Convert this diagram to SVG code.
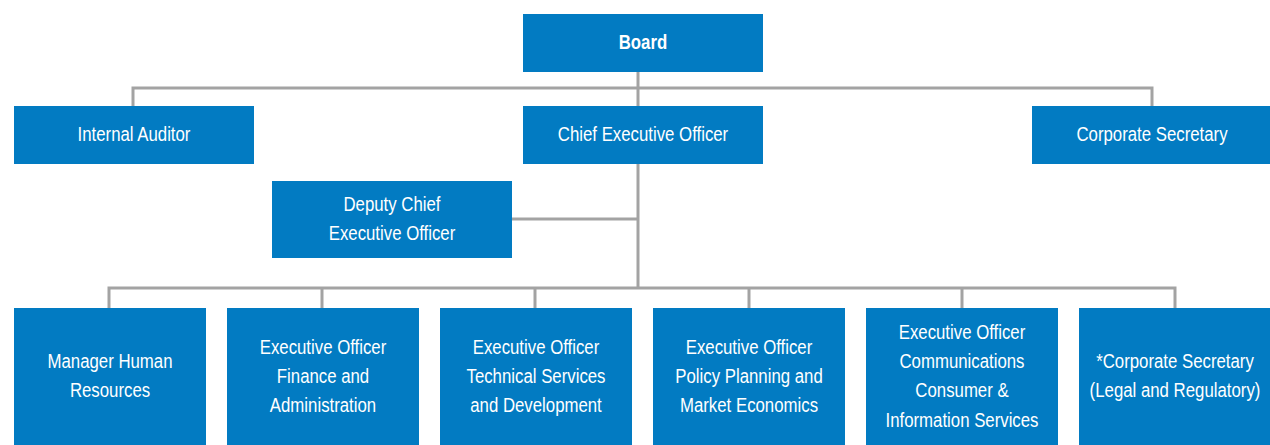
<svg xmlns="http://www.w3.org/2000/svg" width="1270" height="445" viewBox="0 0 1270 445">
<style>
.box{fill:#027BC2}
.t{font-family:"Liberation Sans",Arial,sans-serif;font-size:21px;fill:#fff;text-anchor:middle}
.b{font-weight:bold}
.c{fill:none;stroke:#A3A3A3;stroke-width:3}
</style>
<rect width="1270" height="445" fill="#fff"/>
<g id="connectors">
<path class="c" d="M638 72V288"/>
<path class="c" d="M133 106V88H1152V106"/>
<path class="c" d="M512 219H638"/>
<path class="c" d="M109 308V288H1175V308"/>
<path class="c" d="M322 288V308M535 288V308M749 288V308M962 288V308"/>
</g>
<g id="board"><rect class="box" x="523" y="14" width="240" height="58"/><g transform="translate(643 0) scale(0.8 1)"><text class="t b" x="0" y="49">Board</text></g></g>
<g id="internal-auditor"><rect class="box" x="14" y="106" width="240" height="58"/><g transform="translate(134 0) scale(0.8 1)"><text class="t" x="0" y="141">Internal Auditor</text></g></g>
<g id="ceo"><rect class="box" x="523" y="106" width="240" height="58"/><g transform="translate(643 0) scale(0.8 1)"><text class="t" x="0" y="141">Chief Executive Officer</text></g></g>
<g id="corporate-secretary"><rect class="box" x="1032" y="106" width="240" height="58"/><g transform="translate(1152 0) scale(0.8 1)"><text class="t" x="0" y="141">Corporate Secretary</text></g></g>
<g id="deputy-ceo"><rect class="box" x="272" y="181" width="240" height="77"/><g transform="translate(392 0) scale(0.8 1)"><text class="t" x="0" y="211">Deputy Chief</text><text class="t" x="0" y="240">Executive Officer</text></g></g>
<g id="hr"><rect class="box" x="14" y="308" width="192" height="140"/><g transform="translate(110 0) scale(0.8 1)"><text class="t" x="0" y="368">Manager Human</text><text class="t" x="0" y="397">Resources</text></g></g>
<g id="finance"><rect class="box" x="227" y="308" width="192" height="140"/><g transform="translate(323 0) scale(0.8 1)"><text class="t" x="0" y="354">Executive Officer</text><text class="t" x="0" y="383">Finance and</text><text class="t" x="0" y="412">Administration</text></g></g>
<g id="technical"><rect class="box" x="440" y="308" width="192" height="140"/><g transform="translate(536 0) scale(0.8 1)"><text class="t" x="0" y="354">Executive Officer</text><text class="t" x="0" y="383">Technical Services</text><text class="t" x="0" y="412">and Development</text></g></g>
<g id="policy"><rect class="box" x="653" y="308" width="192" height="140"/><g transform="translate(749 0) scale(0.8 1)"><text class="t" x="0" y="354">Executive Officer</text><text class="t" x="0" y="383">Policy Planning and</text><text class="t" x="0" y="412">Market Economics</text></g></g>
<g id="communications"><rect class="box" x="866" y="308" width="192" height="140"/><g transform="translate(962 0) scale(0.8 1)"><text class="t" x="0" y="339">Executive Officer</text><text class="t" x="0" y="368">Communications</text><text class="t" x="0" y="397">Consumer &amp;</text><text class="t" x="0" y="427">Information Services</text></g></g>
<g id="legal"><rect class="box" x="1079" y="308" width="192" height="140"/><g transform="translate(1175 0) scale(0.8 1)"><text class="t" x="0" y="368">*Corporate Secretary</text><text class="t" x="0" y="397">(Legal and Regulatory)</text></g></g>
</svg>
